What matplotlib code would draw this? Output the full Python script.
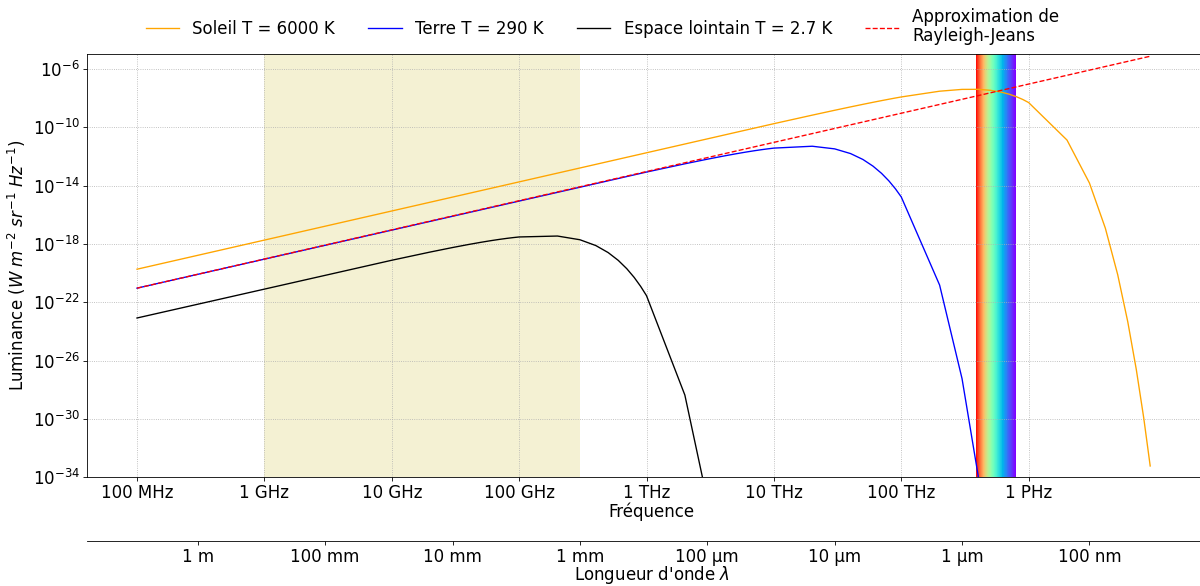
import numpy as np
import matplotlib.pyplot as plt
from matplotlib.ticker import NullLocator

C = 3e8  # m/s

# Soleil, T = 6000 K
freq_soleil = [1e8, 1e13, 2e13, 3e13, 4e13, 5e13, 6e13, 7e13, 8e13, 9e13,
               1e14, 2e14, 3e14, 4e14, 5e14, 6e14, 7e14, 8e14, 9e14,
               1e15, 2e15, 3e15, 4e15, 5e15, 6e15, 7e15, 8e15, 9e15]
lum_soleil = [1.841e-20, 1.768e-10, 6.791e-10, 1.466e-9, 2.499e-9, 3.743e-9, 5.164e-9, 6.729e-9, 8.411e-9, 1.018e-8,
              1.202e-8, 2.981e-8, 3.969e-8, 4.008e-8, 3.437e-8, 2.642e-8, 1.877e-8, 1.256e-8, 8.032e-9,
              4.949e-9, 1.330e-11, 1.508e-14, 1.202e-17, 7.886e-21, 4.579e-24, 2.443e-27, 1.226e-30, 5.864e-34]

# Terre
freq_terre = [1e8, 1e12, 2e12, 3e12, 4e12, 5e12, 6e12, 7e12, 8e12, 9e12,
              1e13, 2e13, 3e13, 4e13, 5e13, 6e13, 7e13, 8e13, 9e13,
              1e14, 2e14, 3e14, 4e14, 5e14]
lum_terre = [9.207e-22, 8.488e-14, 3.124e-13, 6.455e-13, 1.051e-12, 1.502e-12, 1.974e-12, 2.447e-12, 2.904e-12, 3.334e-12,
             3.727e-12, 5.009e-12, 3.303e-12, 1.570e-12, 6.187e-13, 2.158e-13, 6.922e-14, 2.087e-14, 6.001e-15,
             1.663e-15, 1.502e-21, 5.722e-28, 1.531e-34, 3.377e-41]

# Espace lointain, T = 2.7 K
freq_espace = [1e8, 1e10, 2e10, 3e10, 4e10, 5e10, 6e10, 7e10, 8e10, 9e10,
               1e11, 2e11, 3e11, 4e11, 5e11, 6e11, 7e11, 8e11, 9e11,
               1e12, 2e12, 3e12]
lum_espace = [8.286e-24, 7.570e-20, 2.760e-19, 5.644e-19, 9.096e-19, 1.285e-18, 1.670e-18, 2.045e-18, 2.397e-18, 2.717e-18,
              2.996e-18, 3.467e-18, 1.931e-18, 7.705e-19, 2.543e-19, 7.433e-20, 1.995e-20, 5.036e-21, 1.212e-21,
              2.811e-22, 4.294e-29, 2.767e-36]

# Rayleigh-Jeans
freq_rj = [1e8, 9e15]
lum_rj = [9.207e-22, 7.458e-6]

micro_ondes_hz = [1e9, 3e11]
visible_nm = [380, 780]

freq_ticks = [1e8, 1e9, 1e10, 1e11, 1e12, 1e13, 1e14, 1e15]
freq_labels = ["100 MHz", "1 GHz", "10 GHz", "100 GHz", "1 THz", "10 THz", "100 THz", "1 PHz"]
wl_ticks = [1, 1e-1, 1e-2, 1e-3, 1e-4, 1e-5, 1e-6, 1e-7]
wl_labels = ["1 m", "100 mm", "10 mm", "1 mm", "100 µm", "10 µm", "1 µm", "100 nm"]
lum_ticks = [1e-34, 1e-30, 1e-26, 1e-22, 1e-18, 1e-14, 1e-10, 1e-6]


def nu_to_lambda(x):
    x = np.array(x, dtype=float)
    with np.errstate(divide="ignore", invalid="ignore"):
        return C / x


plt.rcParams["font.size"] = 16

fig = plt.figure(figsize=(16, 586 / 75), dpi=75)
ax = fig.add_axes([0.0725, 0.1857, 0.9415, 0.7215])

ax.axvspan(micro_ondes_hz[0], micro_ondes_hz[1], color="#f4f1d3", lw=0, zorder=0.5)

# spectre visible
wl_edges = np.linspace(visible_nm[1], visible_nm[0], 161)
nu_edges = C / (wl_edges * 1e-9)
wl_mid = 0.5 * (wl_edges[1:] + wl_edges[:-1])
vals = (wl_mid - visible_nm[0]) / (visible_nm[1] - visible_nm[0])
ax.pcolormesh(nu_edges, [1e-40, 1.0], vals[np.newaxis, :], cmap="rainbow",
              vmin=0, vmax=1, shading="flat", zorder=1, rasterized=True)

ax.plot(freq_soleil, lum_soleil, color="orange", lw=1.3, label="Soleil T = 6000 K")
ax.plot(freq_terre, lum_terre, color="blue", lw=1.3, label="Terre T = 290 K")
ax.plot(freq_espace, lum_espace, color="black", lw=1.3, label="Espace lointain T = 2.7 K")
ax.plot(freq_rj, lum_rj, "r--", lw=1.3, label="Approximation de\nRayleigh-Jeans")

ax.set_xscale("log")
ax.set_yscale("log")
ax.set_xlim(4.05e7, 3e16)
ax.set_ylim(1e-34, 1e-5)
ax.set_xticks(freq_ticks, freq_labels)
ax.set_yticks(lum_ticks)
ax.xaxis.set_minor_locator(NullLocator())
ax.yaxis.set_minor_locator(NullLocator())
ax.grid(True, linestyle=":", color="#b0b0b0", lw=0.8)
ax.set_xlabel("Fréquence", labelpad=0)
ax.set_ylabel("Luminance ($W\\ m^{-2}\\ sr^{-1}\\ Hz^{-1}$)")

sec = ax.secondary_xaxis(-64 / 422.8, functions=(nu_to_lambda, nu_to_lambda))
sec.set_xticks(wl_ticks, wl_labels)
sec.xaxis.set_minor_locator(NullLocator())
sec.set_xlabel("Longueur d'onde $\\lambda$", labelpad=-2)

leg = fig.legend(loc="upper center", ncol=4, frameon=False, bbox_to_anchor=(0.502, 1.012))
for t in leg.get_texts():
    t.set_linespacing(1.1)

fig.savefig("out.png", dpi=75)
